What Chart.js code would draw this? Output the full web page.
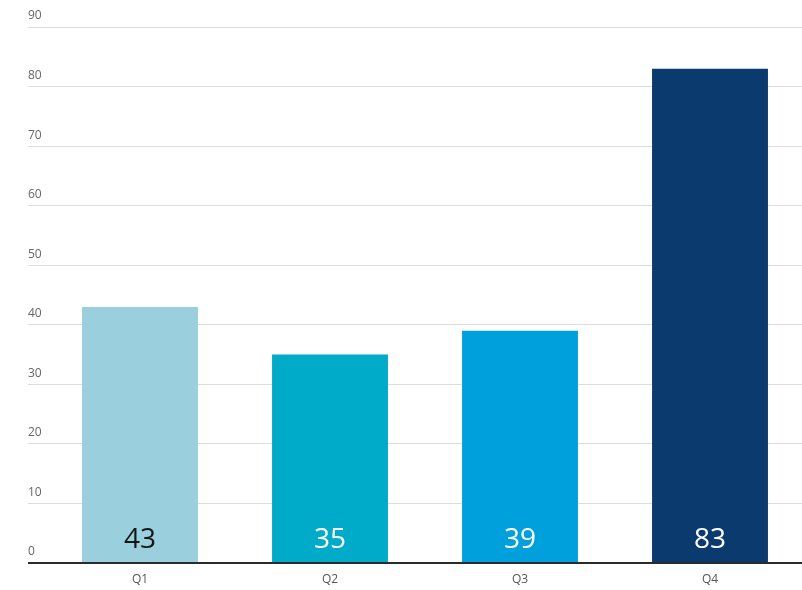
<!DOCTYPE html>
<html>
<head>
<meta charset="utf-8">
<script src="https://cdn.jsdelivr.net/npm/chart.js@4/dist/chart.umd.min.js"></script>
<style>
  html, body { margin: 0; padding: 0; background: #ffffff; overflow: hidden; }
  #wrap { position: relative; width: 810px; height: 590px; }
</style>
</head>
<body>
<div id="wrap"><canvas id="chart"></canvas></div>
<script>
// Quarterly values
const categories = ['Q1', 'Q2', 'Q3', 'Q4'];
const values = [43, 35, 39, 83];
const barColors = ['#9acfdd', '#00aac9', '#00a0dd', '#0b3a6f'];
const labelColors = ['#161616', '#ffffff', '#ffffff', '#ffffff'];
const yTicks = [0, 10, 20, 30, 40, 50, 60, 70, 80, 90];

// Value labels sitting at the foot of each bar
const barValueLabels = {
  id: 'barValueLabels',
  afterDatasetsDraw(chart) {
    const { ctx } = chart;
    const meta = chart.getDatasetMeta(0);
    ctx.save();
    ctx.font = '400 28px "Open Sans", "Noto Sans", sans-serif';
    ctx.textAlign = 'center';
    ctx.textBaseline = 'alphabetic';
    meta.data.forEach((bar, i) => {
      ctx.fillStyle = labelColors[i];
      ctx.fillText(String(values[i]), bar.x, bar.base - 14);
    });
    ctx.restore();
  }
};

new Chart(document.getElementById('chart'), {
  type: 'bar',
  data: {
    labels: categories,
    datasets: [{
      data: values,
      backgroundColor: barColors,
      borderWidth: 0,
      categoryPercentage: 1,
      barPercentage: 0.61
    }]
  },
  options: {
    responsive: true,
    maintainAspectRatio: false,
    animation: false,
    layout: { padding: { left: 28, right: 5, top: 27, bottom: 0 } },
    plugins: { legend: { display: false }, tooltip: { enabled: false } },
    scales: {
      x: {
        afterFit(axis) { axis.height = 27; },
        grid: { display: false, drawTicks: false },
        border: { display: false },
        ticks: {
          color: '#555555',
          padding: 9,
          font: { family: '"Open Sans", "Noto Sans", sans-serif', size: 12 }
        }
      },
      y: {
        min: 0,
        max: 90,
        afterBuildTicks(axis) { axis.ticks = yTicks.map(v => ({ value: v })); },
        afterFit(axis) { axis.width = 17; },
        border: { display: false },
        grid: {
          color: ctx => (ctx.tick && ctx.tick.value === 0) ? '#2b2b2b' : '#dcdcdc',
          lineWidth: ctx => (ctx.tick && ctx.tick.value === 0) ? 2 : 1,
          tickLength: 17,
          drawTicks: true
        },
        ticks: {
          color: '#666666',
          crossAlign: 'far',
          labelOffset: -11,
          padding: 0,
          font: { family: '"Open Sans", "Noto Sans", sans-serif', size: 12 }
        }
      }
    }
  },
  plugins: [barValueLabels]
});
</script>
</body>
</html>
